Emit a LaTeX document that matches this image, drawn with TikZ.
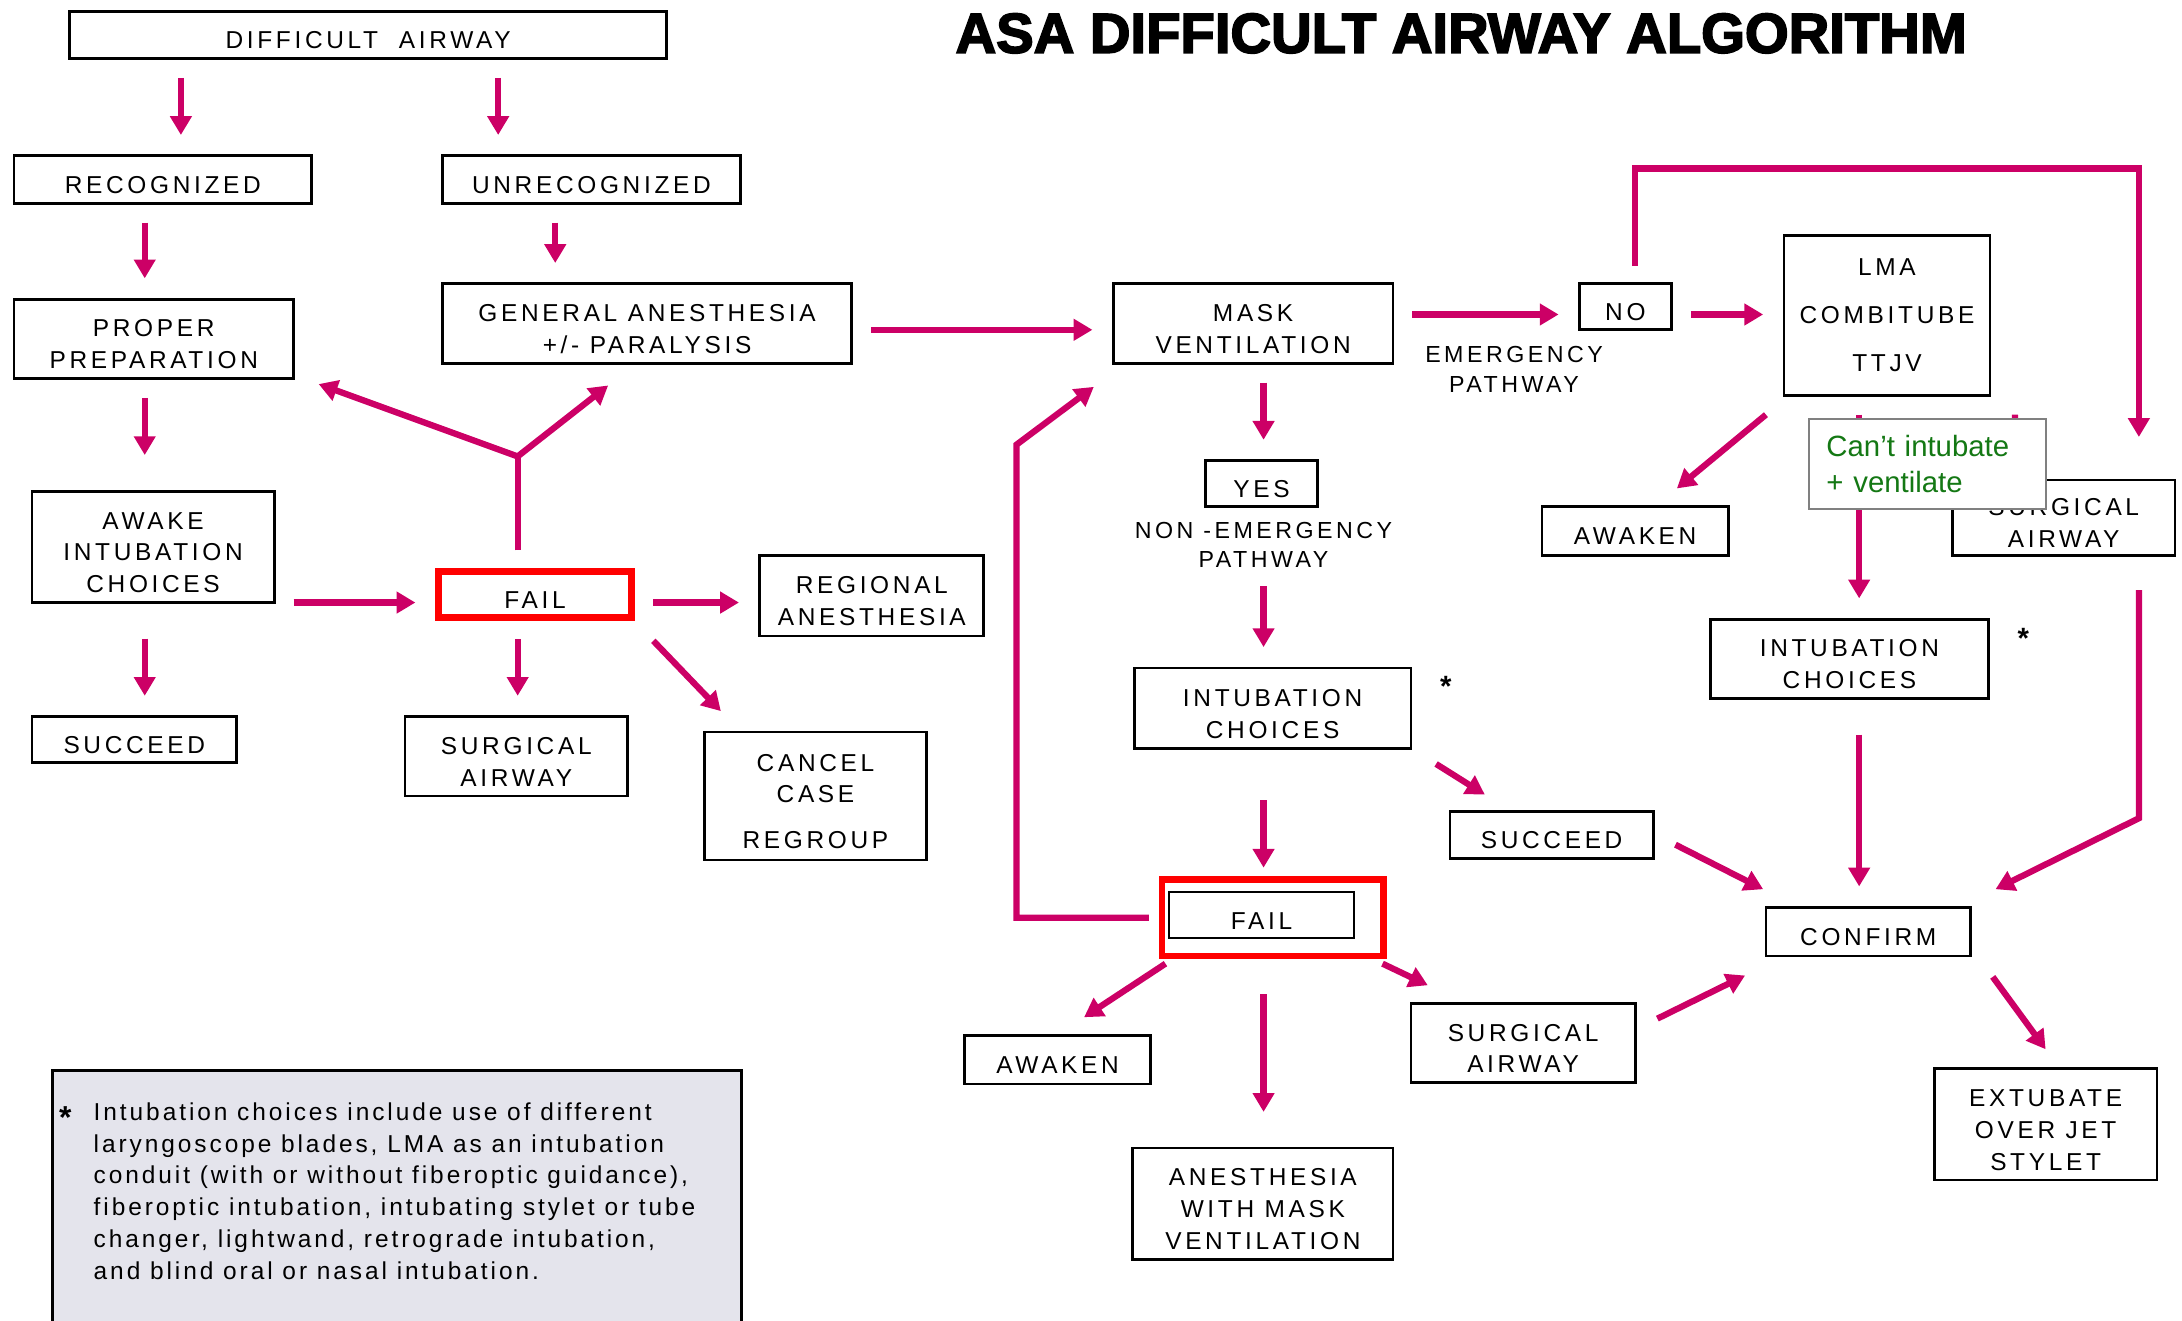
\documentclass[tikz,border=0pt]{standalone}
\usepackage{fontspec}
\usepackage{tikz}
\usetikzlibrary{arrows.meta}
\setmainfont{Liberation Sans}
\newfontfamily\boxfam[LetterSpace=15]{Liberation Sans}
\newfontfamily\notefam[LetterSpace=12]{Liberation Sans}
\newfontfamily\titlefam[BoldFeatures={FakeBold=3}]{Liberation Sans}
\definecolor{arrowpink}{RGB}{204,0,102}
\definecolor{notegray}{RGB}{228,228,236}
\definecolor{notegreen}{RGB}{20,120,20}
\newcommand\boxfont{\boxfam\fontsize{10pt}{13pt}\selectfont}
\newcommand\lblfont{\boxfam\fontsize{9.5pt}{12pt}\selectfont}
\newcommand\notefont{\notefam\fontsize{10pt}{13pt}\selectfont}
\newcommand\boxstrut{\rule{0pt}{11.5pt}}
\tikzset{
  box/.style={draw, line width=0.04cm, fill=white, inner sep=0pt, align=center, font=\boxfont,
              execute at begin node=\boxstrut},
  failbox/.style={box, draw=red, line width=0.1cm},
  pinkline/.style={draw=arrowpink, line width=0.09cm},
  arr/.style={pinkline, -{Triangle[width=0.3cm,length=0.27cm]}},
  gapped/.style={shorten <=0.26cm, shorten >=0.28cm},
  lbl/.style={align=center, font=\lblfont, inner sep=0pt},
}

\begin{document}
\begin{tikzpicture}[x=0.02cm, y=-0.02cm]
    \useasboundingbox (0,0) rectangle (1568,949);

    % Title
    \node[font={\titlefam\bfseries\fontsize{23pt}{26pt}\selectfont}] (title) at (1050,24) {ASA DIFFICULT AIRWAY ALGORITHM};

    % Footnote
    \node[draw, fill=notegray, line width=0.04cm, minimum width=9.9cm, minimum height=4cm, anchor=north west] (footbox) at (37,768) {};
    \node[font=\fontsize{13pt}{13pt}\selectfont\bfseries] (footstar) at (47,803) {*};
    \node[anchor=north west, inner sep=0pt, align=left, font=\notefont] (foottext) at (67,792)
      {Intubation choices include use of different\\
       laryngoscope blades, LMA as an intubation\\
       conduit (with or without fiberoptic guidance),\\
       fiberoptic intubation, intubating stylet or tube\\
       changer, lightwand, retrograde intubation,\\
       and blind oral or nasal intubation.};

    % Recognized / unrecognized
    \node[box, minimum width=8.58cm, minimum height=0.68cm] (diff) at (264.5,25) {DIFFICULT\ \ AIRWAY};
    \node[box, minimum width=4.28cm, minimum height=0.68cm] (recog) at (117,129) {RECOGNIZED};
    \node[box, minimum width=4.28cm, minimum height=0.68cm] (unrecog) at (425,129) {UNRECOGNIZED};
    \node[box, minimum width=4.02cm, minimum height=1.14cm] (prep) at (110.5,243.5) {\boxstrut PROPER\\PREPARATION};
    \node[box, minimum width=5.88cm, minimum height=1.14cm] (genan) at (465,232.5) {\boxstrut GENERAL ANESTHESIA\\+/- PARALYSIS};
    \node[box, minimum width=3.48cm, minimum height=1.6cm] (awake) at (110,393) {\boxstrut AWAKE\\INTUBATION\\CHOICES};
    \node[failbox, minimum width=2.78cm, minimum height=0.66cm] (failL) at (384.5,427.5) {FAIL};
    \node[box, minimum width=3.22cm, minimum height=1.16cm] (regional) at (626.5,428) {\boxstrut REGIONAL\\ANESTHESIA};
    \node[box, minimum width=3.2cm, minimum height=1.84cm] (cancel) at (586,572) {\boxstrut CANCEL\\CASE\\[5.7pt]REGROUP};
    \node[box, minimum width=3.2cm, minimum height=1.14cm] (surgL) at (371,543.5) {\boxstrut SURGICAL\\AIRWAY};
    \node[box, minimum width=2.94cm, minimum height=0.66cm] (succL) at (96.5,531.5) {SUCCEED};

    % Mask ventilation
    \node[box, minimum width=4.02cm, minimum height=1.14cm] (mask) at (900.5,232.5) {\boxstrut MASK\\VENTILATION};
    \node[box, minimum width=1.32cm, minimum height=0.66cm] (no) at (1168,220.5) {NO};
    \node[lbl] (emlbl) at (1088,265.5) {EMERGENCY\\PATHWAY};
    \node[box, minimum width=1.62cm, minimum height=0.66cm] (yes) at (906.5,347.5) {YES};
    \node[lbl] (nonem) at (908,391.5) {NON -EMERGENCY\\PATHWAY};
    \node[box, minimum width=3.98cm, minimum height=1.16cm] (intubM) at (914.5,509) {\boxstrut INTUBATION\\CHOICES};
    \node[font=\fontsize{12pt}{12pt}\selectfont\bfseries] (star1) at (1039,493) {*};
    \node[box, minimum width=2.92cm, minimum height=0.68cm] (succM) at (1115,600) {SUCCEED};
    \node[failbox, minimum width=3.18cm, minimum height=1.1cm] (failMred) at (914.5,659.5) {};
    \node[box, minimum width=2.66cm, minimum height=0.66cm] (failM) at (906.5,657.5) {FAIL};
    \node[box, minimum width=2.68cm, minimum height=0.7cm] (awakenM) at (760,761.5) {AWAKEN};
    \node[box, minimum width=3.74cm, minimum height=1.6cm] (anesth) at (907.5,865) {\boxstrut ANESTHESIA\\WITH MASK\\VENTILATION};
    \node[box, minimum width=3.22cm, minimum height=1.14cm] (surgM) at (1094.5,749.5) {\boxstrut SURGICAL\\AIRWAY};

    % Emergency pathway
    \node[box, minimum width=2.96cm, minimum height=2.3cm] (lma) at (1356,226.5) {LMA\\[6.6pt]COMBITUBE\\[6.6pt]TTJV};
    \node[box, minimum width=2.68cm, minimum height=0.7cm] (awakenR) at (1175,381.5) {AWAKEN};
    \node[box, minimum width=3.2cm, minimum height=1.08cm] (surgR) at (1483,372) {\boxstrut SURGICAL\\AIRWAY};
    \node[box, minimum width=4cm, minimum height=1.14cm] (intubR) at (1329,473.5) {\boxstrut INTUBATION\\CHOICES};
    \node[font=\fontsize{12pt}{12pt}\selectfont\bfseries] (star2) at (1454,459) {*};
    \node[box, minimum width=2.94cm, minimum height=0.7cm] (confirm) at (1342.5,669.5) {CONFIRM};
    \node[box, minimum width=3.2cm, minimum height=1.6cm] (extub) at (1470,808) {\boxstrut EXTUBATE\\OVER JET\\STYLET};

    % Straight arrows
    \foreach \a/\b/\x in {diff/recog/130, diff/unrecog/358, recog/prep/104, unrecog/genan/399,
                          failL/surgL/372, mask/yes/908, nonem/intubM/908, lma/intubR/1336}
      \draw[arr, gapped] (\a.south -| \x,0) -- (\b.north -| \x,0);
    \foreach \a/\b/\y in {awake/failL/433, failL/regional/433, genan/mask/237, mask/no/226, no/lma/226}
      \draw[arr, gapped] (\a.east |- 0,\y) -- (\b.west |- 0,\y);
    \draw[arr, gapped, shorten >=0.5cm] (prep.south -| 104,0) -- (awake.north -| 104,0);
    \draw[arr, gapped, shorten <=0.5cm] (awake.south -| 104,0) -- (succL.north -| 104,0);
    \draw[arr, shorten <=0.72cm, shorten >=0.12cm] (intubM.south -| 908,0) -- (failMred.north -| 908,0);
    \draw[arr, shorten <=0.5cm, shorten >=0.5cm] (failMred.south -| 908,0) -- (anesth.north -| 908,0);
    \draw[arr, gapped, shorten <=0.5cm] (intubR.south -| 1336,0) -- (confirm.north -| 1336,0);

    % Fork above the first FAIL
    \coordinate (fork) at (372,328);
    \draw[pinkline, shorten <=0.26cm] (failL.north -| fork) -- (fork);
    \draw[arr] (fork) -- ([shift={(17,3)}]prep.south east);
    \draw[arr] (fork) -- ([shift={(120,15)}]genan.south west);

    % Slanted arrows
    \draw[arr] ([shift={(13,14)}]failL.south east) -- ([shift={(13,-14)}]cancel.north west);
    \draw[arr] ([shift={(17,10)}]intubM.south east) -- ([shift={(26,-11)}]succM.north west);
    \draw[arr] ([shift={(5,3)}]failMred.south west) -- ([shift={(-49,-12)}]awakenM.north east);
    \draw[arr] ([shift={(-3,3)}]failMred.south east) -- ([shift={(13,-12)}]surgM.north west);
    \draw[arr] ([shift={(15,12)}]surgM.north east) -- ([shift={(-14,13)}]confirm.south west);
    \draw[arr] ([shift={(15,7)}]succM.east) -- ([shift={(-1,-12)}]confirm.north west);
    \draw[arr] ([shift={(15,14)}]confirm.south east) -- ([shift={(0,-13)}]extub.north);
    \draw[arr] ([shift={(-12,13)}]lma.south west) -- ([shift={(30,-12)}]awakenR.north);
    \draw[arr] ([shift={(17,13)}]lma.south east) -- ([shift={(-36,-8)}]surgR.north);

    % Loops
    \draw[arr, shorten <=0.14cm] (failMred.west) -- ++(-102,0) -- ++(0,-340) -- ([shift={(-13,16)}]mask.south west);
    \draw[arr, shorten <=0.24cm] (no.north -| 1175,0) -- ++(0,-82) -| ([shift={(54,-30)}]surgR.north);
    \draw[arr, shorten <=0.48cm] (surgR.south -| 1537,0) -- ++(0,188) -- ([shift={(17,-12)}]confirm.north east);

    % Note laid over the emergency branch
    \node[draw=gray, line width=0.03cm, fill=white, text=notegreen, align=left, text width=2.9cm,
          inner xsep=0.25cm, minimum height=1.3cm, font=\fontsize{12pt}{14.7pt}\selectfont]
          (cant) at (1385,333.5) {Can’t intubate\\+ ventilate};
\end{tikzpicture}
\end{document}
